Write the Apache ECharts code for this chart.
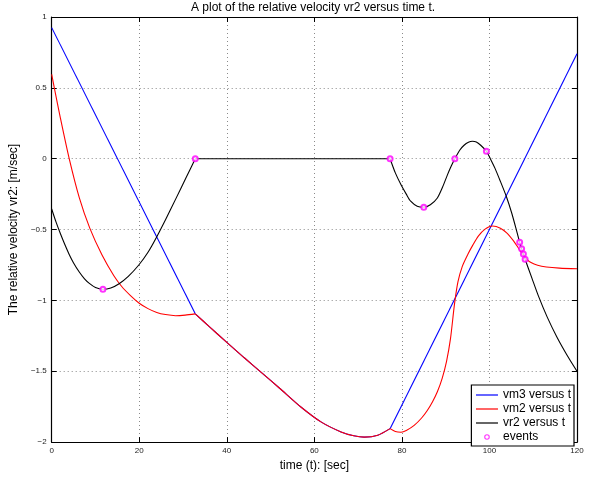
<!DOCTYPE html>
<html>
<head>
<meta charset="utf-8">
<script src="https://cdn.jsdelivr.net/npm/echarts@6/dist/echarts.min.js"></script>
<style>
html,body{margin:0;padding:0;background:#fff;}
#c{width:595px;height:477px;}
</style>
</head>
<body>
<div id="c"></div>
<script>
// ---- data ----
const xTicks = [0, 20, 40, 60, 80, 100, 120];
const yTicks = [-2, -1.5, -1, -0.5, 0, 0.5, 1];

// part shared by vm3 and vm2 (they coincide between t≈33 and t≈77)
const shared = [[32.8,-1.095],[36,-1.185],[40,-1.296],[44,-1.405],[48,-1.512],[52,-1.618],[57,-1.754],[61.6,-1.859],[66.1,-1.928],[69,-1.955],[71.4,-1.965],[74.5,-1.951],[77.3,-1.905]];

const vm3Start = [[0,0.925],[32.8,-1.095]];
const vm3End = [[77.3,-1.905],[120,0.74]];

const vm2Start = [[0,0.595],[0.6,0.5],[2,0.285],[4,0],[6.3,-0.275],[8.7,-0.49],[11.5,-0.68],[14.2,-0.826],[16,-0.902],[18,-0.966],[20,-1.02],[22,-1.058],[24,-1.085],[26,-1.1],[28.3,-1.108],[30.5,-1.104],[32.8,-1.095]];
const vm2End = [[77.3,-1.905],[78.5,-1.925],[79.8,-1.93],[81,-1.918],[82.8,-1.882],[84.5,-1.83],[85.8,-1.777],[87,-1.715],[88.1,-1.645],[89.2,-1.55],[90.2,-1.43],[91.1,-1.27],[92,-1.03],[92.8,-0.87],[93.8,-0.76],[95.1,-0.673],[96.2,-0.61],[97.5,-0.545],[99,-0.497],[100.7,-0.475],[102.5,-0.49],[104,-0.525],[105.5,-0.58],[106.5,-0.625],[107.5,-0.67],[108.5,-0.708],[109.5,-0.733],[111,-0.752],[113,-0.764],[116,-0.772],[120,-0.777]];

const vr2Start = [[0,-0.355],[1,-0.448],[2,-0.53],[3,-0.606],[4,-0.676],[5,-0.736],[6.3,-0.8],[7.5,-0.848],[8.6,-0.88],[10,-0.909],[11.7,-0.921],[13.5,-0.912],[15.4,-0.882],[17.5,-0.83],[19.9,-0.75],[22,-0.66],[23.7,-0.568],[26,-0.43],[28.4,-0.28],[30.6,-0.14],[32.8,0]];
const vr2Flat = [[32.8,0],[77.3,0]];
const vr2End = [[77.3,0],[78.5,-0.1],[79.8,-0.184],[81,-0.25],[82,-0.3],[83.5,-0.335],[85,-0.342],[86.5,-0.325],[88.1,-0.277],[89.3,-0.2],[90.4,-0.114],[91.3,-0.05],[92.1,0],[93.2,0.06],[94.2,0.095],[95.2,0.116],[96.1,0.123],[97,0.118],[98,0.095],[99.3,0.053],[100.2,0],[101.3,-0.07],[102.5,-0.16],[103.9,-0.27],[105.1,-0.385],[106.3,-0.52],[106.9,-0.59],[107.35,-0.635],[107.75,-0.672],[108.15,-0.71],[109.7,-0.843],[111.2,-0.97],[113.2,-1.118],[115.4,-1.258],[117.7,-1.385],[120,-1.5]];

const events = [[11.7,-0.921],[32.8,0],[77.3,0],[85,-0.342],[92.1,0],[99.3,0.053],[106.9,-0.59],[107.35,-0.635],[107.75,-0.672],[108.15,-0.71]];

const names = ['vm3 versus t','vm2 versus t','vr2 versus t','events'];

// ---- chart ----
const FONT = '"Liberation Sans", Arial, Helvetica, sans-serif';
const chart = echarts.init(document.getElementById('c'), null, {renderer:'canvas'});

function lineSeries(name, data, color, smooth){
  return {
    name: name, type:'line', data: data, symbol:'none', showSymbol:false,
    smooth: smooth ? 0.25 : false,
    lineStyle:{color:color, width:1.1}, itemStyle:{color:color},
    emphasis:{disabled:true}, animation:false, z: 2
  };
}

const axisCommon = {
  type:'value',
  axisLine:{show:true, onZero:false, lineStyle:{color:'#000', width:1.2}},
  axisTick:{show:true, inside:true, length:5, lineStyle:{color:'#000', width:1}},
};

// small hollow ring inside a 22x11 box (legend marker for "events")
const ringIcon = 'path://M0,0 M22,11 M13.8,5.5 A2.8,2.8 0 1,0 8.2,5.5 A2.8,2.8 0 1,0 13.8,5.5 Z M12.7,5.5 A1.7,1.7 0 1,1 9.3,5.5 A1.7,1.7 0 1,1 12.7,5.5 Z';

const option = {
  animation:false,
  backgroundColor:'#fff',
  textStyle:{fontFamily:FONT},
  title:{
    text:'A plot of the relative velocity vr2 versus time t.',
    left:313, top:2, textAlign:'center', padding:0,
    textStyle:{fontSize:12, fontWeight:'normal', color:'#000', fontFamily:FONT}
  },
  grid:{left:49, right:18, top:17, bottom:30, containLabel:false},
  legend:{
    data: names.map((n,i)=> i===3
      ? {name:n, icon:ringIcon, itemStyle:{color:'#ff00ff', borderWidth:0}}
      : {name:n, itemStyle:{opacity:0}, lineStyle:{width:1.2}}),
    orient:'vertical', right:21, bottom:31,
    backgroundColor:'#fff', borderColor:'#000', borderWidth:1.2,
    padding:[4,3,3,4], itemGap:2, itemWidth:22, itemHeight:11,
    textStyle:{fontSize:12, color:'#000', fontFamily:FONT},
    selectedMode:false
  },
  xAxis:[
    Object.assign({}, axisCommon, {
      min:0, max:120, interval:20, position:'bottom',
      axisLabel:{fontSize:8, color:'#222', margin:5, fontFamily:FONT},
      splitLine:{show:true, lineStyle:{type:[1,3], color:'#8a8a8a', width:1}},
      name:'time (t): [sec]', nameLocation:'middle', nameGap:17,
      nameTextStyle:{fontSize:12, color:'#000', fontFamily:FONT}
    }),
    Object.assign({}, axisCommon, {
      min:0, max:120, interval:20, position:'top',
      axisLabel:{show:false}, splitLine:{show:false}
    })
  ],
  yAxis:[
    Object.assign({}, axisCommon, {
      min:-2, max:1, interval:0.5, position:'left',
      axisLabel:{fontSize:8, color:'#222', margin:5, fontFamily:FONT,
        formatter: v => (v<0 ? '\u2212' + Math.abs(v) : String(v))},
      splitLine:{show:true, lineStyle:{type:[1,3], color:'#8a8a8a', width:1}},
      name:'The relative velocity vr2: [m/sec]', nameLocation:'middle', nameGap:25,
      nameTextStyle:{fontSize:12, color:'#000', fontFamily:FONT}
    }),
    Object.assign({}, axisCommon, {
      min:-2, max:1, interval:0.5, position:'right',
      axisLabel:{show:false}, splitLine:{show:false}
    })
  ],
  series:[
    lineSeries(names[0], vm3Start, '#0000ff', false),
    lineSeries(names[0], shared, '#0000ff', true),
    lineSeries(names[0], vm3End, '#0000ff', false),
    lineSeries(names[1], vm2Start, '#ff0000', true),
    lineSeries(names[1], shared, '#ff0000', true),
    lineSeries(names[1], vm2End, '#ff0000', true),
    lineSeries(names[2], vr2Start, '#000000', true),
    lineSeries(names[2], vr2Flat, '#000000', false),
    lineSeries(names[2], vr2End, '#000000', true),
    {
      name:names[3], type:'scatter', data:events, symbol:'emptyCircle', symbolSize:5,
      itemStyle:{color:'#ff00ff', borderColor:'#ff00ff', borderWidth:1.2},
      emphasis:{disabled:true}, z:3
    }
  ]
};
chart.setOption(option);
</script>
</body>
</html>
